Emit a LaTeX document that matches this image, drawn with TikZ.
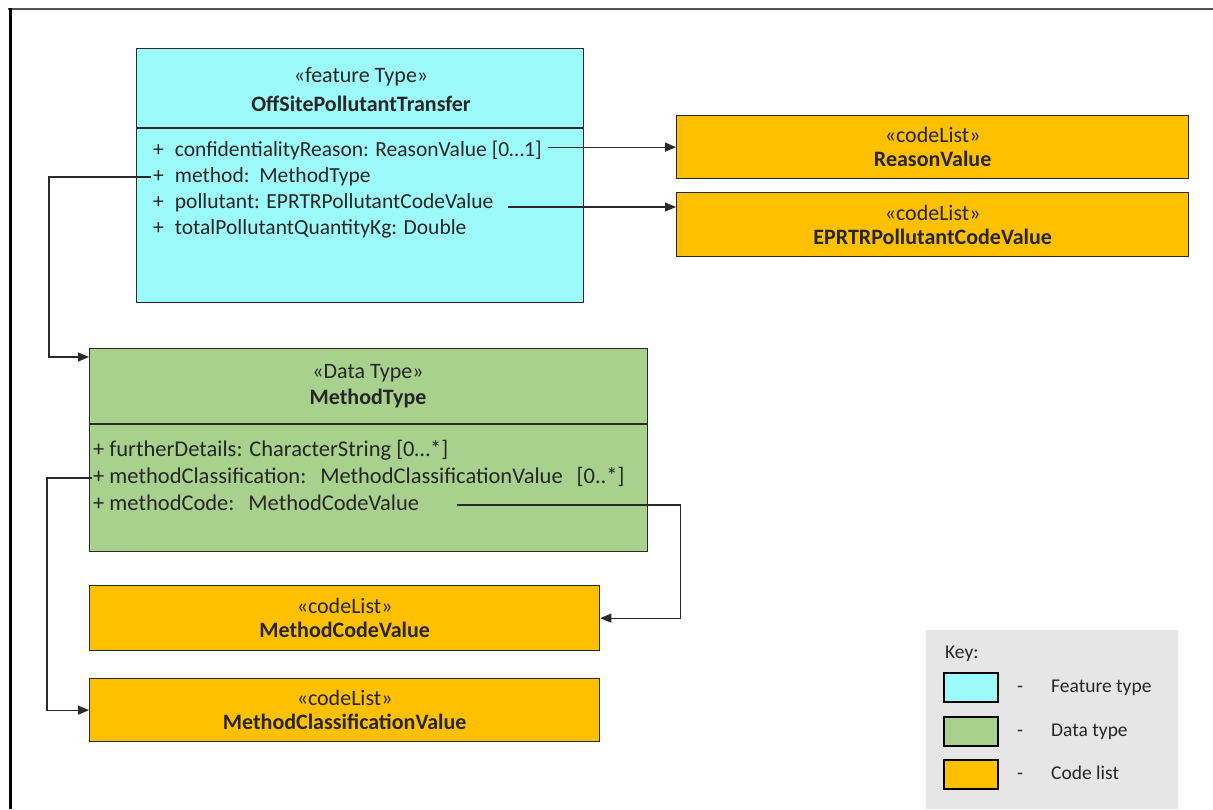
\documentclass[tikz,border=0pt]{standalone}
\usepackage{fontspec}
\setmainfont{Carlito}
\usetikzlibrary{arrows.meta,positioning}
\definecolor{ftcyan}{HTML}{9CFAFB}
\definecolor{dtgreen}{HTML}{A9D18E}
\definecolor{clorange}{HTML}{FFC000}
\definecolor{keygray}{HTML}{E6E6E6}
\definecolor{umlline}{HTML}{2A2A2A}
\definecolor{umltext}{HTML}{262626}
\tikzset{
  box/.style={draw=umlline, line width=1.3pt, anchor=north west, inner sep=0pt, align=center,
    text=umltext, font=\fontsize{22}{24}\selectfont},
  hdr/.style={inner sep=0pt, text=umltext, font=\fontsize{22}{24}\selectfont},
  attr/.style={anchor=west, inner sep=0pt, text height=14pt, text depth=4pt, text=umltext,
    font=\fontsize{21.5}{24}\selectfont},
  dattr/.style={attr, font=\fontsize{22.5}{25}\selectfont},
  keytext/.style={attr, font=\fontsize{19.5}{22}\selectfont},
  conn/.style={draw=umlline, line width=1.2pt, -{Triangle[length=11pt,width=9pt]}},
  swatch/.style={draw=black, line width=2pt, anchor=north west, minimum width=54pt, minimum height=29pt},
}
\begin{document}
\begin{tikzpicture}[x=1pt,y=-1pt]
  %%%%% START %%%%%
  \useasboundingbox (0,0) rectangle (1213,809);
  \draw[umlline!80, line width=1.5pt] (8,9) -- (1213,9);
  \draw[black, line width=3pt] (10,8) -- (10,809);

  % feature type
  \node[box, fill=ftcyan, minimum width=447pt, minimum height=254pt] (ofs) at (136,48) {};
  \coordinate (ofsdiv) at (136,128);
  \draw[umlline, line width=1.3pt] (ofsdiv) -- (ofsdiv -| ofs.east);
  \node[hdr] (ofsst) at (361,77) {«feature Type»};
  \node[hdr, font=\fontsize{22}{24}\selectfont\bfseries] (ofsname) at (361,104) {OffSitePollutantTransfer};
  \node[attr] (fconf) at (153,151) {+\hspace{11pt}confidentialityReason: ReasonValue [0…1]};
  \node[attr] (fmeth) at (153,177) {+\hspace{11pt}method:\ \ MethodType};
  \node[attr] (fpoll) at (153,203) {+\hspace{11pt}pollutant: EPRTRPollutantCodeValue};
  \node[attr] (ftot) at (153,229) {+\hspace{11pt}totalPollutantQuantityKg: Double};

  % code lists on the right
  \node[box, fill=clorange, minimum width=512pt, minimum height=63pt] (reason) at (676,115)
    {«codeList»\\\textbf{ReasonValue}};
  \node[box, fill=clorange, minimum width=512pt, minimum height=64pt] (eprtr) at (676,192)
    {«codeList»\\\textbf{EPRTRPollutantCodeValue}};

  % data type
  \node[box, fill=dtgreen, minimum width=558pt, minimum height=203pt] (mt) at (89,348) {};
  \coordinate (mtdiv) at (89,424);
  \draw[umlline, line width=1.3pt] (mtdiv) -- (mtdiv -| mt.east);
  \node[hdr] (mtst) at (368,373) {«Data Type»};
  \node[hdr, font=\fontsize{22}{24}\selectfont\bfseries] (mtname) at (368,399) {MethodType};
  \node[dattr] (gfur) at (93,451) {+ furtherDetails: CharacterString [0…*]};
  \node[dattr] (gmcl) at (93,478) {+ methodClassification:\hspace{14pt}MethodClassificationValue\hspace{14pt}[0..*]};
  \node[dattr] (gmc) at (93,505) {+ methodCode:\hspace{14pt}MethodCodeValue};

  % code lists below
  \node[box, fill=clorange, minimum width=510pt, minimum height=65pt] (mcode) at (89,585)
    {«codeList»\\\textbf{MethodCodeValue}};
  \node[box, fill=clorange, minimum width=510pt, minimum height=63pt] (mclass) at (89,678)
    {«codeList»\\\textbf{MethodClassificationValue}};

  % connectors
  \coordinate (mtin) at ([yshift=-9pt]mt.north west);
  \coordinate (pollout) at ([xshift=14pt,yshift=-4pt]fpoll.east);
  \draw[conn] ([xshift=6pt]fconf.east |- reason.west) -- (reason.west);
  \draw[conn] (pollout) -- (pollout -| eprtr.west);
  \draw[conn] ([xshift=-2pt]fmeth.west) -| ([xshift=-40pt]mtin) -- (mtin);
  \draw[conn] ([xshift=-1pt]gmcl.west) -| ([xshift=-42pt]mclass.west) -- (mclass.west);
  \draw[conn] ([xshift=38pt]gmc.east) -| ([xshift=80pt]mcode.east) -- (mcode.east);

  % key
  \node[anchor=north west, fill=keygray, minimum width=252pt, minimum height=179pt, inner sep=0pt] (keybox) at (926,630) {};
  \node[keytext] (keyttl) at (945,653) {Key:};
  \node[swatch, fill=ftcyan] (kft) at (943,672) {};
  \node[swatch, fill=dtgreen] (kdt) at (943,716) {};
  \node[swatch, fill=clorange] (kcl) at (943,759) {};
  \node[keytext, right=18pt of kft] (kftd) {-};
  \node[keytext, right=18pt of kdt] (kdtd) {-};
  \node[keytext, right=18pt of kcl] (kcld) {-};
  \node[keytext] (kftl) at (1051,687) {Feature type};
  \node[keytext] (kdtl) at (1051,731) {Data type};
  \node[keytext] (kcll) at (1051,774) {Code list};
  %%%%% END %%%%%
\end{tikzpicture}
\end{document}
